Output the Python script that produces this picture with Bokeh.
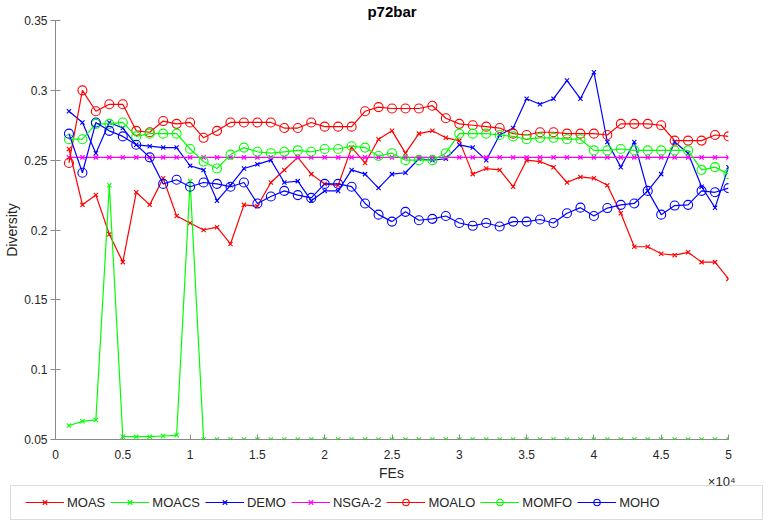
from bokeh.plotting import figure
from bokeh.models import Range1d, FixedTicker, Label, Legend, LegendItem, BoxAnnotation
from bokeh.embed import file_html
from bokeh.resources import INLINE

FES = [1000, 2000, 3000, 4000, 5000, 6000, 7000, 8000, 9000, 10000,
       11000, 12000, 13000, 14000, 15000, 16000, 17000, 18000, 19000, 20000,
       21000, 22000, 23000, 24000, 25000, 26000, 27000, 28000, 29000, 30000,
       31000, 32000, 33000, 34000, 35000, 36000, 37000, 38000, 39000, 40000,
       41000, 42000, 43000, 44000, 45000, 46000, 47000, 48000, 49000, 50000]

MOAS = [0.258, 0.218, 0.225, 0.197, 0.177, 0.227, 0.218, 0.237, 0.210, 0.205,
        0.200, 0.202, 0.190, 0.218, 0.217, 0.234, 0.243, 0.252, 0.240, 0.233,
        0.232, 0.259, 0.248, 0.265, 0.271, 0.255, 0.269, 0.271, 0.266, 0.264,
        0.240, 0.244, 0.243, 0.231, 0.250, 0.249, 0.245, 0.234, 0.238, 0.237,
        0.232, 0.212, 0.188, 0.188, 0.183, 0.182, 0.184, 0.177, 0.177, 0.165]

MOACS = [0.060, 0.063, 0.064, 0.232, 0.052, 0.052, 0.052, 0.0525, 0.053, 0.235,
         0.050, 0.050, 0.050, 0.050, 0.050, 0.050, 0.050, 0.050, 0.050, 0.050,
         0.050, 0.050, 0.050, 0.050, 0.050, 0.050, 0.050, 0.050, 0.050, 0.050,
         0.050, 0.050, 0.050, 0.050, 0.050, 0.050, 0.050, 0.050, 0.050, 0.050,
         0.050, 0.050, 0.050, 0.050, 0.050, 0.050, 0.050, 0.050, 0.050, 0.050]

DEMO = [0.285, 0.277, 0.255, 0.277, 0.273, 0.261, 0.260, 0.259, 0.259, 0.246,
        0.243, 0.221, 0.232, 0.244, 0.247, 0.250, 0.234, 0.235, 0.221, 0.228,
        0.228, 0.243, 0.240, 0.230, 0.240, 0.241, 0.251, 0.250, 0.251, 0.261,
        0.259, 0.250, 0.268, 0.273, 0.294, 0.290, 0.294, 0.307, 0.294, 0.313,
        0.263, 0.245, 0.263, 0.228, 0.240, 0.263, 0.255, 0.231, 0.216, 0.245]

NSGA2 = [0.252, 0.252, 0.252, 0.252, 0.252, 0.252, 0.252, 0.252, 0.252, 0.252,
         0.252, 0.252, 0.252, 0.252, 0.252, 0.252, 0.252, 0.252, 0.252, 0.252,
         0.252, 0.252, 0.252, 0.252, 0.252, 0.252, 0.252, 0.252, 0.252, 0.252,
         0.252, 0.252, 0.252, 0.252, 0.252, 0.252, 0.252, 0.252, 0.252, 0.252,
         0.252, 0.252, 0.252, 0.252, 0.252, 0.252, 0.252, 0.252, 0.252, 0.252]

MOALO = [0.248, 0.300, 0.285, 0.290, 0.290, 0.271, 0.270, 0.278, 0.276, 0.277,
         0.266, 0.271, 0.277, 0.277, 0.277, 0.277, 0.273, 0.273, 0.277, 0.274,
         0.274, 0.274, 0.285, 0.288, 0.287, 0.287, 0.287, 0.289, 0.280, 0.276,
         0.275, 0.274, 0.273, 0.269, 0.268, 0.270, 0.270, 0.269, 0.269, 0.269,
         0.268, 0.276, 0.276, 0.276, 0.275, 0.264, 0.264, 0.264, 0.268, 0.267]

MOMFO = [0.265, 0.265, 0.276, 0.276, 0.277, 0.267, 0.269, 0.269, 0.269, 0.258,
         0.249, 0.244, 0.254, 0.259, 0.256, 0.255, 0.256, 0.257, 0.256, 0.258,
         0.258, 0.260, 0.259, 0.253, 0.255, 0.250, 0.250, 0.250, 0.255, 0.269,
         0.269, 0.269, 0.268, 0.267, 0.265, 0.266, 0.266, 0.265, 0.265, 0.257,
         0.257, 0.258, 0.257, 0.257, 0.257, 0.257, 0.257, 0.243, 0.245, 0.240]

MOHO = [0.269, 0.241, 0.277, 0.271, 0.267, 0.261, 0.252, 0.233, 0.236, 0.231,
        0.234, 0.233, 0.231, 0.234, 0.219, 0.224, 0.228, 0.225, 0.223, 0.233,
        0.233, 0.231, 0.219, 0.211, 0.206, 0.213, 0.207, 0.208, 0.210, 0.205,
        0.203, 0.205, 0.2025, 0.206, 0.206, 0.2075, 0.205, 0.212, 0.216, 0.210,
        0.2157, 0.218, 0.219, 0.228, 0.211, 0.2175, 0.218, 0.228, 0.227, 0.230]

SERIES_NAMES = ["MOAS", "MOACS", "DEMO", "NSGA-2", "MOALO", "MOMFO", "MOHO"]
SERIES_VALUES = [MOAS, MOACS, DEMO, NSGA2, MOALO, MOMFO, MOHO]
SERIES_COLORS = ["#ff0000", "#00ff00", "#0000ff", "#ff00ff", "#ff0000", "#00ff00", "#0000ff"]
SERIES_MARKERS = ["x", "x", "x", "x", "circle", "circle", "circle"]

X_TICKS = [0, 5000, 10000, 15000, 20000, 25000, 30000, 35000, 40000, 45000, 50000]
X_TICK_LABELS = ["0", "0.5", "1", "1.5", "2", "2.5", "3", "3.5", "4", "4.5", "5"]
Y_TICKS = [0.05, 0.1, 0.15, 0.2, 0.25, 0.3, 0.35]
Y_TICK_LABELS = ["0.05", "0.1", "0.15", "0.2", "0.25", "0.3", "0.35"]

TITLE = "p72bar"
X_LABEL = "FEs"
X_EXPONENT = "×10⁴"
Y_LABEL = "Diversity"

FONT = "Liberation Sans"
AXIS_COLOR = "#8a8a8a"
TEXT_COLOR = "#262626"


def add_series(fig):
    items = []
    for name, vals, col, mk in zip(SERIES_NAMES, SERIES_VALUES, SERIES_COLORS, SERIES_MARKERS):
        lr = fig.line(FES, vals, line_color=col, line_width=1.2)
        if mk == "x":
            sr = fig.scatter(FES, vals, marker="x", size=6, line_color=col, line_width=1.1)
        else:
            sr = fig.scatter(FES, vals, marker="circle", size=9, line_color=col,
                             fill_color=None, line_width=1.1)
        items.append(LegendItem(label=name, renderers=[lr, sr]))
    return items


# ---------------- main axes ----------------
p = figure(width=772, height=463, x_range=Range1d(0, 50000), y_range=Range1d(0.05, 0.35),
           toolbar_location=None, output_backend="svg",
           min_border_left=55, min_border_right=44, min_border_top=20, min_border_bottom=24)
p.outline_line_color = None
p.xgrid.visible = False
p.ygrid.visible = False
p.title.text = TITLE
p.title.align = "center"
p.title.text_font = FONT
p.title.text_font_size = "15px"
p.title.text_font_style = "bold"
p.title.text_color = "#000000"
p.title.standoff = 1

xa = p.xaxis[0]
xa.ticker = FixedTicker(ticks=X_TICKS)
xa.major_label_overrides = {t: l for t, l in zip(X_TICKS, X_TICK_LABELS)}
xa.minor_tick_line_color = None
xa.major_tick_in = 5
xa.major_tick_out = 0
xa.major_label_standoff = 10

ya = p.yaxis[0]
ya.ticker = FixedTicker(ticks=Y_TICKS)
ya.major_label_overrides = {t: l for t, l in zip(Y_TICKS, Y_TICK_LABELS)}
ya.minor_tick_line_color = None
ya.major_tick_in = 5
ya.major_tick_out = 5
ya.major_label_standoff = 3
ya.axis_label = Y_LABEL
ya.axis_label_standoff = 1
ya.axis_label_text_font_style = "normal"

for ax in (xa, ya):
    ax.axis_line_color = AXIS_COLOR
    ax.major_tick_line_color = AXIS_COLOR
    ax.major_label_text_font = FONT
    ax.major_label_text_font_size = "12px"
    ax.major_label_text_color = TEXT_COLOR
    ax.axis_label_text_font = FONT
    ax.axis_label_text_font_size = "14px"
    ax.axis_label_text_color = TEXT_COLOR

add_series(p)

# ---------------- strip below: x label, exponent, legend ----------------
p2 = figure(width=772, height=63, x_range=Range1d(0, 1), y_range=Range1d(0, 1),
            toolbar_location=None, output_backend="svg",
            x_axis_location=None, y_axis_location=None,
            min_border_left=0, min_border_right=0, min_border_top=0, min_border_bottom=0)
p2.outline_line_color = None
p2.xgrid.visible = False
p2.ygrid.visible = False

legend_items = add_series(p2)   # same data, lies outside this strip's ranges

p2.add_layout(Label(x=391, y=54, x_units="screen", y_units="screen", text=X_LABEL,
                    text_font=FONT, text_font_size="14px", text_align="center",
                    text_baseline="middle", text_color=TEXT_COLOR))
p2.add_layout(Label(x=735, y=45, x_units="screen", y_units="screen", text=X_EXPONENT,
                    text_font=FONT, text_font_size="13px", text_align="right",
                    text_baseline="middle", text_color=TEXT_COLOR))
p2.add_layout(BoxAnnotation(left=10, right=762, top=41, bottom=7,
                            left_units="screen", right_units="screen",
                            top_units="screen", bottom_units="screen",
                            fill_alpha=0, line_color="#8a8a8a", line_width=1))

leg = Legend(items=legend_items, orientation="horizontal", location=(25, 16),
             border_line_alpha=0, background_fill_alpha=0, padding=0, margin=0,
             spacing=5, label_standoff=3, glyph_width=39, glyph_height=16,
             label_height=16, label_text_font=FONT, label_text_font_size="13px",
             label_text_color=TEXT_COLOR)
p2.add_layout(leg)

open("out.html", "w").write(file_html([p, p2], INLINE))
